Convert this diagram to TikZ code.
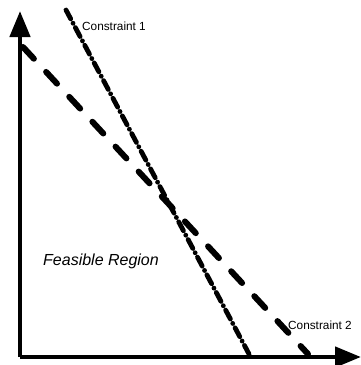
\documentclass[tikz,border=0pt]{standalone}
\usepackage{fontspec}
\setmainfont{Liberation Sans}
\usepackage{tikz}
\usetikzlibrary{arrows.meta,positioning}
\definecolor{InkBlack}{HTML}{000000}

\tikzset{
  axisline/.style={draw=InkBlack,line width=4.5pt,-{Triangle[length=26pt,width=20pt]}},
  bindline/.style={draw=InkBlack,line width=6pt,line cap=round,dash pattern=on 16pt off 18pt},
  boundline/.style={draw=InkBlack,line width=4.8pt,line cap=round,dash pattern=on 10pt off 5pt on 0pt off 5pt},
  tag/.style={text=InkBlack,inner sep=0pt,font=\fontsize{11.8}{13}\selectfont}
}

\begin{document}
\begin{tikzpicture}[x=1pt,y=-1pt]
  \useasboundingbox (0,0) rectangle (361,365);
  % axes
  \coordinate (origin) at (20,357);
  \coordinate (ytip)   at (20,11);
  \coordinate (xtip)   at (361,357);
  \draw[axisline] (origin) -- (ytip);
  \draw[axisline] (origin) -- (xtip);
  % constraints
  \coordinate (cOneTop) at (66,10);
  \coordinate (cOneEnd) at (249,354);
  \coordinate (cTwoTop) at (23,47);
  \coordinate (cTwoEnd) at (308,354);
  \draw[boundline] (cOneTop) -- (cOneEnd);
  \draw[bindline]  (cTwoTop) -- (cTwoEnd);
  % labels
  \node[tag,anchor=west] (lblOne) at (82,26) {Constraint 1};
  \node[tag,anchor=west] (lblTwo) at (288,325) {Constraint 2};
  \node[tag,anchor=west,font=\fontsize{16}{18}\itshape] (region) at (43,261) {Feasible Region};
\end{tikzpicture}
\end{document}
